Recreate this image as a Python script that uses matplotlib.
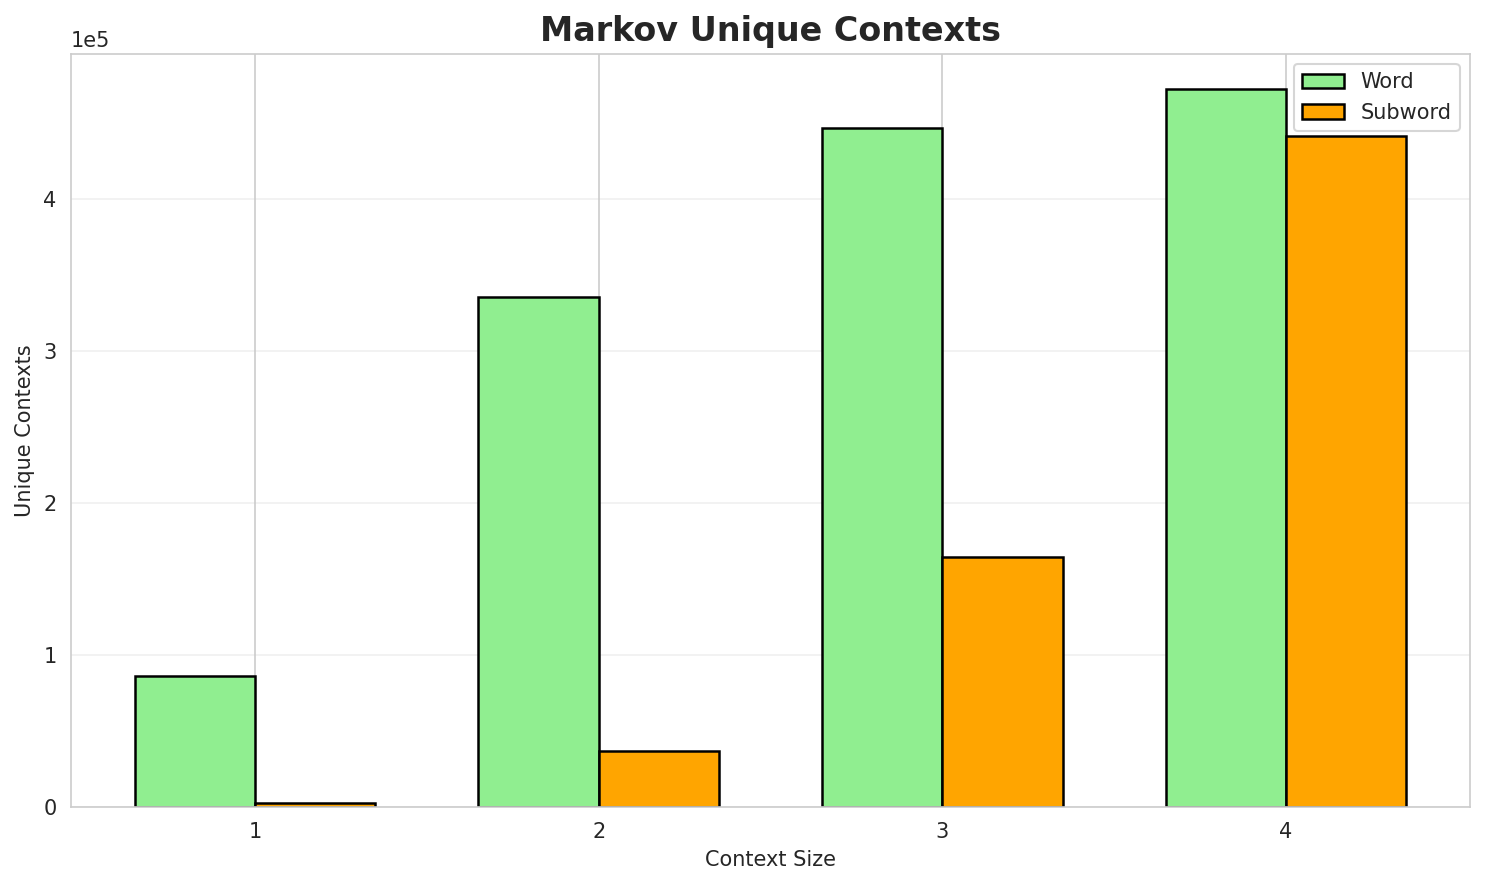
import matplotlib
matplotlib.use("Agg")
import matplotlib.pyplot as plt
import seaborn as sns
import numpy as np

sns.set_style("whitegrid")

context_sizes = [1, 2, 3, 4]
word_contexts = [86200, 336000, 446700, 472400]
subword_contexts = [2600, 36800, 164500, 441400]

fig, ax = plt.subplots(figsize=(10, 6), dpi=150)
x = np.array(context_sizes)
width = 0.35
ax.bar(x - width / 2, word_contexts, width, label="Word", color="lightgreen",
       edgecolor="black", linewidth=1.2)
ax.bar(x + width / 2, subword_contexts, width, label="Subword", color="orange",
       edgecolor="black", linewidth=1.2)
ax.set_xticks(x)
ax.set_xticklabels([str(c) for c in context_sizes])
ax.set_xlabel("Context Size")
ax.set_ylabel("Unique Contexts")
ax.set_title("Markov Unique Contexts", fontsize=16, fontweight="bold")
ax.ticklabel_format(axis="y", style="sci", scilimits=(0, 0))
ax.legend(loc="upper right")
ax.grid(axis="y", alpha=0.3)
fig.tight_layout()
fig.savefig("out.png", dpi=150, bbox_inches="tight")
